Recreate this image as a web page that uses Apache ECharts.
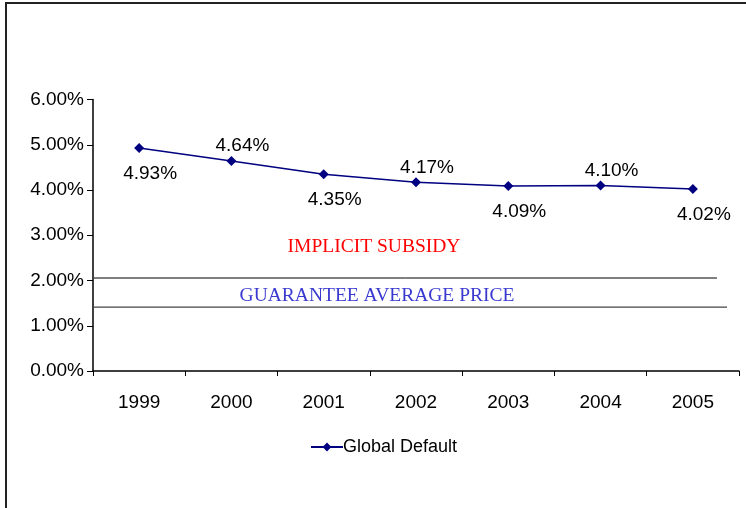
<!DOCTYPE html>
<html><head><meta charset="utf-8">
<script src="https://cdn.jsdelivr.net/npm/echarts@6/dist/echarts.min.js"></script>
<style>html,body{margin:0;padding:0;background:#fff}#c{width:746px;height:508px}</style>
</head><body><div id="c"></div>
<script>
const years = ['1999','2000','2001','2002','2003','2004','2005'];
const globalDefault = [4.93, 4.64, 4.35, 4.17, 4.09, 4.10, 4.02];
const yTicks = [0, 1, 2, 3, 4, 5, 6];
const subsidyLevel = 2.055;
const guaranteeLevel = 1.41;
const seriesName = 'Global Default';
const annotations = ['IMPLICIT SUBSIDY', 'GUARANTEE AVERAGE PRICE'];

const chart = echarts.init(document.getElementById('c'));
const font = '"Liberation Sans", Arial, sans-serif';
const serif = '"Liberation Serif", "Times New Roman", serif';

chart.setOption({
  animation: false,
  grid: {left: 93, right: 7, top: 99.5, bottom: 137, containLabel: false},
  legend: {
    data: [seriesName], left: 305, top: 433, itemWidth: 32, itemHeight: 11, itemGap: 4,
    textStyle: {fontFamily: font, fontSize: 18, color: '#000', padding: [0, 0, 0, -5]}
  },
  xAxis: {
    type: 'category', data: years, boundaryGap: true,
    axisLine: {lineStyle: {color: '#000', width: 1.5}},
    axisTick: {show: true, length: 5, lineStyle: {color: '#000'}},
    axisLabel: {fontFamily: font, fontSize: 19, color: '#000', margin: 22}
  },
  yAxis: {
    type: 'value', min: yTicks[0], max: yTicks[yTicks.length-1], interval: 1,
    axisLine: {show: true, lineStyle: {color: '#000', width: 1.5}},
    axisTick: {show: true, length: 6, lineStyle: {color: '#000'}},
    splitLine: {show: false},
    axisLabel: {fontFamily: font, fontSize: 19, color: '#000', margin: 9,
      formatter: v => v.toFixed(2) + '%'}
  },
  series: [{
    name: seriesName, type: 'line', symbol: 'diamond', symbolSize: 10,
    itemStyle: {color: '#000080'}, lineStyle: {color: '#000080', width: 1.5},
    data: globalDefault.map((v, i) => ({
      value: v,
      label: {show: true, position: 'inside', offset: [11, i % 2 === 0 ? 26 : -15],
        fontFamily: font, fontSize: 19, color: '#000',
        formatter: p => p.value.toFixed(2) + '%'}
    }))
  }]
});

const ySub = chart.convertToPixel({yAxisIndex: 0}, subsidyLevel);
const yGua = chart.convertToPixel({yAxisIndex: 0}, guaranteeLevel);
chart.setOption({
  graphic: [
    {type: 'rect', shape: {x: 6, y: 3, width: 900, height: 700}, style: {fill: null, stroke: '#222', lineWidth: 2}, silent: true},
    {type: 'line', shape: {x1: 94, y1: ySub, x2: 717, y2: ySub}, style: {stroke: '#000', lineWidth: 1}},
    {type: 'line', shape: {x1: 94, y1: yGua, x2: 727, y2: yGua}, style: {stroke: '#444', lineWidth: 1.2}},
    {type: 'text', x: 374, y: 247, style: {text: annotations[0], fill: '#ff0000', font: '19.5px ' + serif, textAlign: 'center', textVerticalAlign: 'middle'}},
    {type: 'text', x: 377, y: 296, style: {text: annotations[1], fill: '#3a3ad0', font: '19.5px ' + serif, textAlign: 'center', textVerticalAlign: 'middle'}}
  ]
});
</script></body></html>
